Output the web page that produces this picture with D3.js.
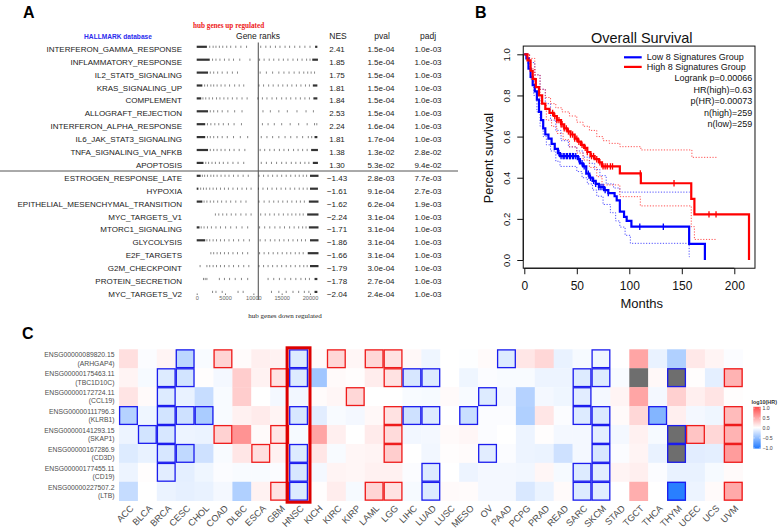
<!DOCTYPE html>
<html>
<head>
<meta charset="utf-8">
<script src="https://cdn.jsdelivr.net/npm/d3@7"></script>
<style>
  body { margin: 0; background: #fff; }
  svg { display: block; font-family: "Liberation Sans", Arial, Helvetica, sans-serif; }
</style>
</head>
<body>
<svg id="fig" width="778" height="531"></svg>
<script>
// ---- panel A : GSEA table ----
const pathways = [
  'INTERFERON_GAMMA_RESPONSE', 'INFLAMMATORY_RESPONSE', 'IL2_STAT5_SIGNALING', 'KRAS_SIGNALING_UP',
  'COMPLEMENT', 'ALLOGRAFT_REJECTION', 'INTERFERON_ALPHA_RESPONSE', 'IL6_JAK_STAT3_SIGNALING',
  'TNFA_SIGNALING_VIA_NFKB', 'APOPTOSIS', 'ESTROGEN_RESPONSE_LATE', 'HYPOXIA',
  'EPITHELIAL_MESENCHYMAL_TRANSITION', 'MYC_TARGETS_V1', 'MTORC1_SIGNALING', 'GLYCOLYSIS',
  'E2F_TARGETS', 'G2M_CHECKPOINT', 'PROTEIN_SECRETION', 'MYC_TARGETS_V2'
];
const nesValues = [2.41, 1.85, 1.75, 1.81, 1.84, 2.53, 2.24, 1.81, 1.38, 1.30,
  -1.43, -1.61, -1.62, -2.24, -1.71, -1.86, -1.66, -1.79, -1.78, -2.04];
const pValues = ['1.5e-04', '1.5e-04', '1.5e-04', '1.5e-04', '1.5e-04', '1.5e-04', '1.6e-04', '1.7e-04', '1.3e-02', '5.3e-02',
  '2.8e-03', '9.1e-04', '6.2e-04', '3.1e-04', '3.1e-04', '3.1e-04', '3.1e-04', '3.0e-04', '2.7e-04', '2.4e-04'];
const padjValues = ['1.0e-03', '1.0e-03', '1.0e-03', '1.0e-03', '1.0e-03', '1.0e-03', '1.0e-03', '1.0e-03', '2.8e-02', '9.4e-02',
  '7.7e-03', '2.7e-03', '1.9e-03', '1.0e-03', '1.0e-03', '1.0e-03', '1.0e-03', '1.0e-03', '1.0e-03', '1.0e-03'];

// dense stretches of the barcode (thousand ranks)
const rankBlocks = [
  [[0, 1.8], [20.9, 21.3]], [[0, 2.3], [20.4, 21.4]], [[0, 2.0]], [[0, 1.0], [20.5, 21.3]],
  [[0, 0.8], [20.6, 21.3]], [[0, 2.0]], [[0, 1.5]], [[0, 1.5], [20.8, 21.3]],
  [[0, 2.0], [20.2, 21.4]], [[0, 1.2], [20.5, 21.4]], [[0, 0.7], [20.0, 21.5]], [[0, 0.3], [20.0, 21.4]],
  [[0, 1.0], [19.8, 21.5]], [[19.5, 21.5]], [[0, 0.5], [19.8, 21.5]], [[0, 1.5], [20.0, 21.5]],
  [[19.6, 21.5]], [[20.0, 21.5]], [[20.8, 21.3]], [[20.8, 21.3]]
];
// single hits of the barcode (thousand ranks)
const rankTicks = [
  [2.3, 2.9, 3.4, 4.0, 4.6, 5.3, 6.0, 6.9, 7.8, 8.8, 11.3, 12.2, 13.0, 13.9, 14.7, 15.6, 16.4, 17.3, 18.2, 19.1, 20.0],
  [2.8, 3.4, 4.1, 4.9, 5.7, 6.5, 7.6, 9.4, 11.1, 11.9, 12.8, 13.6, 14.5, 15.3, 16.1, 17.0, 17.8, 18.6, 19.4, 20.0],
  [2.4, 3.0, 3.7, 4.5, 5.4, 6.3, 7.2, 11.2, 12.3, 13.4, 14.5, 15.4, 16.3, 17.2, 18.1, 18.9, 19.6, 20.2, 20.8],
  [1.4, 1.9, 2.5, 3.0, 3.6, 4.3, 5.0, 5.8, 6.7, 7.5, 8.3, 11.0, 11.8, 12.7, 13.5, 14.4, 15.2, 16.0, 16.8, 17.6, 18.4, 19.2, 19.9],
  [1.1, 1.6, 2.2, 2.8, 3.5, 4.1, 4.8, 5.5, 6.3, 7.1, 8.0, 8.9, 10.8, 11.6, 12.4, 13.3, 14.1, 15.0, 15.8, 16.6, 17.5, 18.3, 19.1, 19.9],
  [2.4, 3.0, 3.7, 4.5, 5.5, 6.7, 8.0, 11.7, 13.0, 14.5, 16.0, 17.7, 19.3, 20.6],
  [1.9, 2.5, 3.2, 3.9, 4.7, 5.6, 6.6, 7.9, 11.6, 12.6, 13.7, 15.0, 16.5, 18.0, 19.5, 20.8, 21.2],
  [1.9, 2.4, 3.0, 3.7, 4.5, 5.4, 6.5, 7.7, 9.0, 11.4, 12.4, 13.4, 14.5, 15.6, 16.6, 17.7, 18.7, 19.7, 20.3],
  [2.4, 3.0, 3.6, 4.3, 5.0, 5.8, 6.6, 7.5, 8.5, 11.2, 12.0, 12.9, 13.7, 14.6, 15.4, 16.2, 17.1, 17.9, 18.7, 19.5],
  [1.6, 2.1, 2.7, 3.3, 4.0, 4.7, 5.5, 6.4, 7.3, 8.3, 11.4, 12.3, 13.2, 14.1, 15.0, 15.8, 16.7, 17.5, 18.3, 19.1, 19.8],
  [1.0, 1.4, 1.9, 2.5, 3.0, 3.6, 4.3, 5.0, 5.7, 6.5, 7.3, 8.2, 9.1, 11.0, 11.8, 12.6, 13.4, 14.2, 15.0, 15.8, 16.6, 17.4, 18.1, 18.8, 19.4],
  [0.7, 1.2, 1.7, 2.3, 2.9, 3.5, 4.2, 4.9, 5.6, 6.4, 7.2, 8.0, 8.8, 9.6, 10.9, 11.7, 12.5, 13.3, 14.1, 14.9, 15.7, 16.5, 17.3, 18.1, 18.8, 19.5],
  [1.3, 1.8, 2.4, 3.0, 3.7, 4.4, 5.2, 6.0, 6.9, 7.8, 8.7, 11.0, 11.9, 12.8, 13.6, 14.4, 15.2, 16.0, 16.8, 17.6, 18.3, 19.0],
  [3.3, 3.9, 4.6, 5.3, 6.1, 6.9, 7.8, 8.7, 9.6, 11.3, 12.1, 12.9, 13.7, 14.5, 15.3, 16.1, 16.8, 17.5, 18.2, 18.8],
  [0.8, 1.3, 1.9, 2.6, 3.4, 4.2, 5.1, 6.0, 7.0, 8.0, 9.0, 11.1, 12.0, 12.9, 13.8, 14.7, 15.5, 16.4, 17.2, 18.0, 18.7, 19.3],
  [1.8, 2.3, 2.9, 3.5, 4.2, 4.9, 5.7, 6.5, 7.4, 8.3, 9.3, 11.2, 12.1, 13.0, 13.8, 14.6, 15.4, 16.2, 17.0, 17.8, 18.5, 19.2],
  [2.5, 3.0, 3.6, 4.2, 4.9, 5.6, 6.4, 7.2, 8.1, 9.0, 11.1, 11.9, 12.7, 13.5, 14.3, 15.1, 15.9, 16.6, 17.4, 18.1, 18.8],
  [0.6, 1.8, 2.3, 2.9, 3.5, 4.2, 4.9, 5.7, 6.5, 7.4, 8.3, 9.2, 11.0, 11.8, 12.6, 13.4, 14.2, 15.0, 15.8, 16.6, 17.4, 18.2, 18.9, 19.5],
  [1.2, 1.5, 1.8, 4.0, 4.9, 5.8, 6.8, 7.9, 9.0, 12.6, 13.6, 14.6, 15.6, 16.6, 17.5, 18.4, 19.2, 19.9],
  [2.8, 3.4, 4.5, 7.3, 8.2, 13.2, 14.5, 15.8, 17.0, 18.0, 19.0, 19.8]
];
const rankAxisTicks = [0, 5000, 10000, 15000, 20000];
const rankZero = 10870;

// ---- panel B : Kaplan-Meier ----
const lowCurve = [[0, 1], [2, 0.98], [4, 0.93], [6, 0.89], [8, 0.85], [10, 0.82], [12, 0.78], [14, 0.72], [16, 0.68],
  [18, 0.64], [20, 0.61], [23, 0.59], [26, 0.565], [29, 0.54], [32, 0.52], [34, 0.505], [51, 0.49], [53, 0.47],
  [56, 0.455], [59, 0.42], [62, 0.40], [65, 0.385], [68, 0.37], [71, 0.355], [76, 0.34], [80, 0.325], [86, 0.31],
  [88, 0.29], [91, 0.235], [95, 0.21], [97.5, 0.19], [102, 0.162], [157, 0.078], [172, 0]];
const highCurve = [[0, 1], [3, 0.97], [6, 0.92], [8, 0.88], [11, 0.84], [14, 0.80], [17, 0.76], [20, 0.735], [24, 0.715],
  [28, 0.70], [31, 0.68], [35, 0.66], [38, 0.64], [41, 0.625], [44, 0.61], [48, 0.59], [51, 0.575], [54, 0.56],
  [57, 0.545], [60, 0.525], [63, 0.505], [67, 0.49], [71, 0.475], [74, 0.455], [91, 0.421], [111, 0.373],
  [159, 0.297], [162, 0.222], [214, 0]];
const lowUpper = [[0, 1], [5, 0.96], [10, 0.9], [15, 0.83], [20, 0.76], [25, 0.68], [30, 0.63], [35, 0.58], [42, 0.55],
  [50, 0.53], [56, 0.50], [62, 0.47], [67, 0.44], [72, 0.41], [78, 0.37], [85, 0.35], [91, 0.33], [157.5, 0.33]];
const lowLower = [[0, 1], [3, 0.95], [6, 0.88], [9, 0.8], [12, 0.72], [15, 0.65], [18, 0.6], [21, 0.56], [25, 0.53],
  [30, 0.48], [34, 0.455], [50, 0.43], [55, 0.40], [60, 0.37], [65, 0.34], [69, 0.31], [75, 0.27], [82, 0.23],
  [87, 0.19], [91, 0.16], [96, 0.12], [101, 0.081], [157, 0.016], [157.5, 0.016]];
const highUpper = [[0, 1], [5, 0.98], [10, 0.9], [15, 0.83], [20, 0.79], [25, 0.76], [30, 0.74], [36, 0.72], [43, 0.70],
  [50, 0.67], [56, 0.65], [62, 0.63], [69, 0.60], [75, 0.58], [81, 0.567], [91, 0.551], [111, 0.535],
  [159.6, 0.499], [183.2, 0.499]];
const highLower = [[0, 1], [5, 0.93], [10, 0.84], [15, 0.76], [21, 0.68], [26, 0.65], [31, 0.615], [37, 0.585],
  [43, 0.55], [50, 0.52], [56, 0.486], [62, 0.45], [69, 0.405], [74, 0.365], [91, 0.308], [110.5, 0.263],
  [159, 0.162], [162, 0.1], [183.2, 0.1]];
const lowCensor = [33, 35, 37, 38, 40, 41, 43, 44, 46, 47, 49, 52, 55, 57, 61, 63, 66, 68, 71, 73, 75, 77, 80, 110, 132.4];
const highCensor = [27, 29, 31, 33, 35, 36, 38, 40, 42, 44, 46, 48, 50, 52, 55, 58, 60, 64, 66, 69, 72, 75, 77, 79,
  82, 84, 110.5, 142.6, 175.9, 182.6];
const monthTicks = [0, 50, 100, 150, 200];
const survTicks = [0, 0.2, 0.4, 0.6, 0.8, 1.0];
const kmLegend = ['Low 8 Signatures Group', 'High 8 Signatures Group'];
const kmStats = ['Logrank p=0.00066', 'HR(high)=0.63', 'p(HR)=0.00073', 'n(high)=259', 'n(low)=259'];

// ---- panel C : heatmap of log10(HR) ----
const cancers = ['ACC', 'BLCA', 'BRCA', 'CESC', 'CHOL', 'COAD', 'DLBC', 'ESCA', 'GBM', 'HNSC', 'KICH', 'KIRC',
  'KIRP', 'LAML', 'LGG', 'LIHC', 'LUAD', 'LUSC', 'MESO', 'OV', 'PAAD', 'PCPG', 'PRAD', 'READ', 'SARC', 'SKCM',
  'STAD', 'TGCT', 'THCA', 'THYM', 'UCEC', 'UCS', 'UVM'];
const geneIds = ['ENSG00000089820.15', 'ENSG00000175463.11', 'ENSG00000172724.11', 'ENSG00000111796.3',
  'ENSG00000141293.15', 'ENSG00000167286.9', 'ENSG00000177455.11', 'ENSG00000227507.2'];
const geneSymbols = ['(ARHGAP4)', '(TBC1D10C)', '(CCL19)', '(KLRB1)', '(SKAP1)', '(CD3D)', '(CD19)', '(LTB)'];
// one array per cancer, one value per gene (null = grey cell)
const hrValues = [
  [0.18, 0.06, 0.15, -0.33, -0.08, -0.15, -0.08, -0.26],
  [-0.02, -0.04, 0.03, -0.07, -0.2, -0.1, 0.01, 0.0],
  [0.06, -0.15, -0.15, -0.2, -0.18, -0.18, -0.13, -0.09],
  [-0.3, -0.2, -0.1, -0.22, -0.08, -0.28, -0.12, -0.11],
  [-0.03, 0.01, -0.25, -0.38, -0.09, -0.22, -0.07, -0.1],
  [0.24, -0.05, -0.03, -0.03, 0.25, -0.03, -0.02, -0.05],
  [0.02, 0.28, 0.28, 0.08, 0.6, 0.14, -0.03, -0.35],
  [0.09, 0.07, 0.0, 0.11, 0.03, 0.18, -0.03, 0.07],
  [0.07, 0.16, -0.05, 0.06, 0.14, 0.08, -0.02, 0.16],
  [-0.15, -0.15, -0.06, -0.18, -0.04, -0.15, -0.18, -0.15],
  [0.03, -0.42, 0.02, -0.13, 0.5, 0.14, -0.05, 0.01],
  [0.22, 0.03, 0.05, -0.03, 0.09, -0.03, 0.06, 0.1],
  [0.05, 0.01, 0.22, -0.05, 0.0, 0.05, 0.05, -0.04],
  [0.22, 0.1, 0.0, 0.04, 0.11, 0.06, 0.08, 0.24],
  [0.16, 0.16, 0.0, 0.16, 0.2, 0.28, 0.08, 0.16],
  [0.04, -0.18, -0.03, -0.22, -0.06, 0.0, -0.02, -0.04],
  [-0.07, -0.15, -0.04, -0.15, -0.05, -0.06, -0.15, -0.15],
  [0.0, 0.0, 0.03, 0.0, 0.03, 0.01, 0.0, 0.03],
  [-0.01, -0.07, -0.03, -0.24, 0.05, 0.02, -0.08, 0.02],
  [0.03, -0.02, -0.15, -0.02, -0.02, -0.13, -0.05, -0.05],
  [-0.15, -0.03, -0.05, -0.02, 0.0, -0.02, -0.05, -0.05],
  [0.14, -0.03, -0.33, -0.35, -0.08, -0.08, -0.06, -0.17],
  [0.22, -0.08, -0.05, 0.14, 0.01, -0.09, 0.05, -0.09],
  [-0.1, -0.08, -0.07, -0.02, -0.05, -0.22, -0.04, 0.03],
  [-0.04, -0.15, -0.13, -0.15, -0.05, -0.05, -0.15, -0.15],
  [-0.07, -0.15, -0.05, -0.16, -0.12, -0.18, -0.13, -0.13],
  [0.0, -0.03, 0.06, 0.03, -0.05, -0.02, 0.06, 0.0],
  [0.5, null, 0.5, 0.22, 0.08, 0.06, 0.09, 0.45],
  [-0.1, 0.04, -0.05, -0.55, -0.04, -0.1, -0.02, 0.0],
  [-0.35, null, 0.26, 0.09, null, null, -0.1, -0.95],
  [0.13, 0.01, 0.09, -0.05, 0.33, -0.13, -0.1, -0.08],
  [0.06, -0.12, 0.15, -0.07, 0.22, -0.12, -0.04, 0.03],
  [-0.02, 0.42, 0.01, 0.38, 0.42, 0.55, 0.03, 0.48]
];
// significant genes per cancer (boxed cells), sign gives box colour
const sigRows = [[3], [4], [1, 2, 3, 4, 5, 6], [0, 1, 3, 5], [3], [0, 4], [], [5], [1, 4, 7], [0, 1, 3, 5, 6, 7],
  [], [0], [2], [0, 7], [0, 1, 3, 4, 5, 7], [1, 3], [1, 3, 6, 7], [], [3], [2, 5], [0], [], [], [],
  [1, 2, 3, 6, 7], [0, 1, 3, 4, 5, 6, 7], [], [], [3], [1, 4, 5, 7], [4], [], [1, 3, 4, 5, 7]];
const sigSign = [[-1], [-1], [-1, -1, -1, -1, -1, -1], [-1, -1, -1, -1], [-1], [1, 1], [], [1], [1, 1, 1],
  [-1, -1, -1, -1, -1, -1], [], [1], [1], [1, 1], [1, 1, 1, 1, 1, 1], [-1, -1], [-1, -1, -1, -1], [], [-1],
  [-1, -1], [-1], [], [], [], [-1, -1, -1, -1, -1], [-1, -1, -1, -1, -1, -1, -1], [], [], [-1],
  [-1, -1, -1, -1], [1], [], [1, 1, 1, 1, 1]];
const highlightCancer = 'HNSC';
const legendTicks = [1.0, 0.5, 0.0, -0.5, -1.0];

const svg = d3.select('#fig');
const fmt2 = d3.format('.2f');

// panel letters
[['A', 23, 18], ['B', 475, 18], ['C', 22, 339]].forEach(([t, x, y]) => {
  svg.append('text').attr('x', x).attr('y', y).attr('font-size', 16).attr('font-weight', 'bold').text(t);
});

// =========== panel A ===========
const gA = svg.append('g');
const rowY = d3.scaleLinear().domain([0, 19]).range([49, 294.1]);
const rankX = d3.scaleLinear().domain([0, 20000]).range([196.7, 310]);

gA.append('text').attr('x', 118).attr('y', 38.5).attr('text-anchor', 'middle')
  .attr('font-size', 6.6).attr('font-weight', 'bold').attr('fill', '#2b2bee').text('HALLMARK database');
gA.append('text').attr('x', 193).attr('y', 28).attr('font-family', '"Liberation Serif", "Times New Roman", serif')
  .attr('font-size', 7.2).attr('font-weight', 'bold').attr('fill', '#ee2222').text('hub genes up regulated');
gA.append('text').attr('x', 258).attr('y', 38.5).attr('text-anchor', 'middle').attr('font-size', 8.5)
  .attr('fill', '#222').text('Gene ranks');
[['NES', 338], ['pval', 382], ['padj', 428]].forEach(([t, x]) => {
  gA.append('text').attr('x', x).attr('y', 38.5).attr('text-anchor', 'middle').attr('font-size', 8.5)
    .attr('fill', '#222').text(t);
});

gA.selectAll('text.pw').data(pathways).join('text')
  .attr('class', 'pw').attr('x', 182).attr('y', (d, i) => rowY(i)).attr('dy', '0.35em')
  .attr('text-anchor', 'end').attr('font-size', 8).attr('fill', '#222').text(d => d);

const cols = [[nesValues.map(fmt2), 337], [pValues, 381], [padjValues, 428]];
cols.forEach(([vals, x]) => {
  gA.append('g').selectAll('text').data(vals).join('text')
    .attr('x', x).attr('y', (d, i) => rowY(i)).attr('dy', '0.35em').attr('text-anchor', 'middle')
    .attr('font-size', 8).attr('fill', '#222').text(d => d);
});

// barcodes
pathways.forEach((p, i) => {
  const g = gA.append('g').attr('transform', `translate(0,${rowY(i)})`);
  g.selectAll('rect').data(rankBlocks[i]).join('rect')
    .attr('x', d => rankX(d[0] * 1000)).attr('width', d => rankX(d[1] * 1000) - rankX(d[0] * 1000))
    .attr('y', -3.3).attr('height', 2.2).attr('fill', '#333');
  g.selectAll('line').data(rankTicks[i]).join('line')
    .attr('x1', d => rankX(d * 1000)).attr('x2', d => rankX(d * 1000))
    .attr('y1', -3.3).attr('y2', -1.1).attr('stroke', '#555').attr('stroke-width', 0.7);
});
gA.append('line').attr('x1', rankX(rankZero)).attr('x2', rankX(rankZero)).attr('y1', 42.5).attr('y2', 300)
  .attr('stroke', '#333').attr('stroke-width', 0.9);

const rankAxis = d3.axisBottom(rankX).tickValues(rankAxisTicks).tickSize(1.5).tickPadding(1.5).tickFormat(d3.format('d'));
gA.append('g').attr('transform', 'translate(0,293.5)').call(rankAxis)
  .call(g => g.select('.domain').remove())
  .call(g => g.selectAll('line').attr('stroke', '#777'))
  .call(g => g.selectAll('text').attr('font-size', 5.6).attr('fill', '#666').attr('font-family', 'inherit'));
gA.append('text').attr('x', 285).attr('y', 318).attr('text-anchor', 'middle')
  .attr('font-family', '"Liberation Serif", "Times New Roman", serif').attr('font-size', 7).attr('fill', '#222')
  .text('hub genes down regulated');
gA.append('line').attr('x1', 0).attr('x2', 458).attr('y1', 171).attr('y2', 171)
  .attr('stroke', '#555').attr('stroke-width', 1);

// =========== panel B ===========
const gB = svg.append('g');
const kx = d3.scaleLinear().domain([0, 200]).range([524.3, 734.3]);
const ky = d3.scaleLinear().domain([0, 1]).range([260, 54.3]);
const frameL = kx(-1), frameR = kx(219.7), frameT = ky(1.04), frameB = ky(-0.04);

gB.append('text').attr('x', 641.7).attr('y', 42.5).attr('text-anchor', 'middle').attr('font-size', 14.5)
  .attr('fill', '#111').text('Overall Survival');

const stepLine = d3.line().x(d => kx(d[0])).y(d => ky(d[1])).curve(d3.curveStepAfter);
const ciSets = [[lowUpper, '#3333ff'], [lowLower, '#3333ff'], [highUpper, '#ff3333'], [highLower, '#ff3333']];
ciSets.forEach(([data, c]) => {
  gB.append('path').attr('d', stepLine(data)).attr('fill', 'none').attr('stroke', c)
    .attr('stroke-width', 1).attr('stroke-dasharray', '1.2,1.6').attr('opacity', 0.85);
});
const curves = [[lowCurve, lowCensor, '#0000ff'], [highCurve, highCensor, '#ff0000']];
curves.forEach(([data, cens, c]) => {
  gB.append('path').attr('d', stepLine(data)).attr('fill', 'none').attr('stroke', c).attr('stroke-width', 2.2);
  const bis = d3.bisector(d => d[0]).right;
  gB.append('g').selectAll('line').data(cens).join('line')
    .attr('x1', d => kx(d)).attr('x2', d => kx(d))
    .attr('y1', d => ky(data[bis(data, d) - 1][1]) - 3.2)
    .attr('y2', d => ky(data[bis(data, d) - 1][1]) + 3.2)
    .attr('stroke', c).attr('stroke-width', 1.3);
});

gB.append('rect').attr('x', frameL).attr('y', frameT).attr('width', frameR - frameL).attr('height', frameB - frameT)
  .attr('fill', 'none').attr('stroke', '#111').attr('stroke-width', 1);

const xAxisB = d3.axisBottom(kx).tickValues(monthTicks).tickSize(6).tickPadding(7);
gB.append('g').attr('transform', `translate(0,${frameB})`).call(xAxisB)
  .call(g => g.select('.domain').attr('d', `M${kx(0)},0H${kx(200)}`).attr('stroke', '#111'))
  .call(g => g.selectAll('line').attr('stroke', '#111'))
  .call(g => g.selectAll('text').attr('font-size', 12).attr('fill', '#111').attr('font-family', 'inherit'));
const yAxisB = d3.axisLeft(ky).tickValues(survTicks).tickSize(6).tickFormat(d3.format('.1f'));
gB.append('g').attr('transform', `translate(${frameL},0)`).call(yAxisB)
  .call(g => g.select('.domain').attr('d', `M0,${ky(0)}V${ky(1)}`).attr('stroke', '#111'))
  .call(g => g.selectAll('line').attr('stroke', '#111'))
  .call(g => g.selectAll('text').attr('font-size', 9.5).attr('fill', '#111').attr('font-family', 'inherit')
    .attr('x', 0).attr('dy', 0).attr('text-anchor', 'middle')
    .attr('transform', 'translate(-13.5,0) rotate(-90)'));
gB.append('text').attr('x', 641.7).attr('y', 308).attr('text-anchor', 'middle').attr('font-size', 13)
  .attr('fill', '#111').text('Months');
gB.append('text').attr('transform', 'translate(492.5,158) rotate(-90)').attr('text-anchor', 'middle')
  .attr('font-size', 12.7).attr('fill', '#111').text('Percent survival');

// legend
const legY = d3.scaleLinear().domain([0, 1]).range([57.3, 66.9]);
kmLegend.forEach((t, i) => {
  gB.append('line').attr('x1', 624).attr('x2', 641.7).attr('y1', legY(i)).attr('y2', legY(i))
    .attr('stroke', i === 0 ? '#0000ff' : '#ff0000').attr('stroke-width', 2.2);
  gB.append('text').attr('x', 646.7).attr('y', legY(i)).attr('dy', '0.35em').attr('font-size', 9)
    .attr('fill', '#111').text(t);
});
gB.append('g').selectAll('text').data(kmStats).join('text')
  .attr('x', 752.3).attr('y', (d, i) => 78.3 + i * 11.5).attr('dy', '0.35em').attr('text-anchor', 'end')
  .attr('font-size', 9).attr('fill', '#111').text(d => d);

// =========== panel C ===========
const gC = svg.append('g');
const hx = d3.scaleBand().domain(cancers).range([119, 742.7]);
const hy = d3.scaleBand().domain(d3.range(geneIds.length)).range([349.3, 500.7]);
const color = d3.scaleLinear().domain([-1, 0, 1]).range(['#1e78ff', '#ffffff', '#ff4b4b']).clamp(true);

const cells = [];
cancers.forEach((c, ci) => hrValues[ci].forEach((v, gi) => cells.push({ c, gi, v })));
gC.append('g').selectAll('rect').data(cells).join('rect')
  .attr('x', d => hx(d.c)).attr('y', d => hy(d.gi))
  .attr('width', hx.bandwidth() + 0.3).attr('height', hy.bandwidth() + 0.3)
  .attr('fill', d => d.v === null ? '#6e6e6e' : color(d.v));

const boxes = [];
cancers.forEach((c, ci) => sigRows[ci].forEach((gi, k) => boxes.push({ c, gi, s: sigSign[ci][k] })));
gC.append('g').selectAll('rect').data(boxes).join('rect')
  .attr('x', d => hx(d.c) + 0.6).attr('y', d => hy(d.gi) + 0.6)
  .attr('width', hx.bandwidth() - 1.2).attr('height', hy.bandwidth() - 1.2)
  .attr('fill', 'none').attr('stroke', d => d.s > 0 ? '#ee1c1c' : '#1c1cee').attr('stroke-width', 1.3);

gC.append('rect').attr('x', hx(highlightCancer) - 2).attr('y', hy(0) - 1.5)
  .attr('width', hx.bandwidth() + 4).attr('height', hy.range()[1] - hy.range()[0] + 3)
  .attr('fill', 'none').attr('stroke', '#dd0000').attr('stroke-width', 3);

// row labels
geneIds.forEach((id, i) => {
  const cy = hy(i) + hy.bandwidth() / 2;
  gC.append('text').attr('x', 114.5).attr('y', cy - 4).attr('dy', '0.35em').attr('text-anchor', 'end')
    .attr('font-size', 6.8).attr('fill', '#4d4d4d').text(id);
  gC.append('text').attr('x', 114.5).attr('y', cy + 4.5).attr('dy', '0.35em').attr('text-anchor', 'end')
    .attr('font-size', 6.8).attr('fill', '#4d4d4d').text(geneSymbols[i]);
});
// column labels
gC.append('g').selectAll('text').data(cancers).join('text')
  .attr('transform', d => `translate(${hx(d) + hx.bandwidth() / 2 + 3.5},${hy.range()[1] + 6}) rotate(-45)`)
  .attr('text-anchor', 'end').attr('dy', '0.35em').attr('font-size', 9.2).attr('fill', '#4d4d4d').text(d => d);

// colour bar
const defs = svg.append('defs');
const grad = defs.append('linearGradient').attr('id', 'hrgrad').attr('x1', 0).attr('x2', 0).attr('y1', 1).attr('y2', 0);
d3.range(-1, 1.01, 0.25).forEach(v => {
  grad.append('stop').attr('offset', `${(v + 1) / 2 * 100}%`).attr('stop-color', color(v));
});
const legScale = d3.scaleLinear().domain([-1, 1]).range([447.9, 408.1]);
gC.append('text').attr('x', 751.5).attr('y', 404).attr('font-size', 5.4).attr('font-weight', 'bold')
  .attr('fill', '#333').text('log10(HR)');
gC.append('rect').attr('x', 753.3).attr('y', 406.8).attr('width', 7.4).attr('height', 41.8).attr('fill', 'url(#hrgrad)');
gC.append('g').selectAll('line').data(legendTicks).join('line')
  .attr('x1', 753.3).attr('x2', 754.8).attr('y1', d => legScale(d)).attr('y2', d => legScale(d))
  .attr('stroke', '#fff').attr('stroke-width', 0.5);
gC.append('g').selectAll('line').data(legendTicks).join('line')
  .attr('x1', 759.2).attr('x2', 760.7).attr('y1', d => legScale(d)).attr('y2', d => legScale(d))
  .attr('stroke', '#fff').attr('stroke-width', 0.5);
gC.append('g').selectAll('text').data(legendTicks).join('text')
  .attr('x', 762.5).attr('y', d => legScale(d)).attr('dy', '0.35em').attr('font-size', 5.2).attr('fill', '#444')
  .text(d => d3.format('.1f')(d));
</script>
</body>
</html>
